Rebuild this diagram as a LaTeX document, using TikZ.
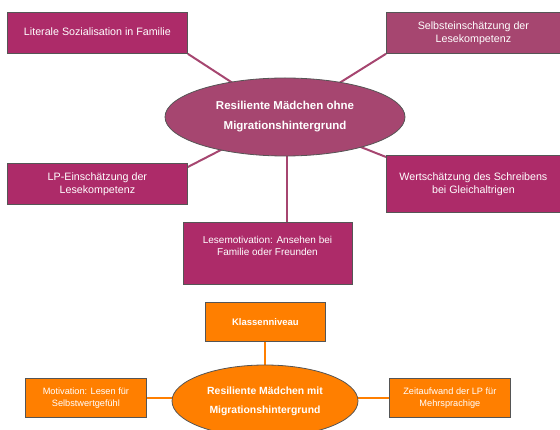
\documentclass[tikz,border=0pt]{standalone}
\usepackage{fontspec}
\setmainfont{Liberation Sans}
\usetikzlibrary{shapes.geometric,backgrounds}
\definecolor{mag}{HTML}{AD2B69}
\definecolor{magl}{HTML}{A64670}
\definecolor{org}{HTML}{FF7F00}
\definecolor{edge}{HTML}{555555}
\tikzset{
  pbox/.style={draw=edge, line width=0.8pt, fill=mag, text=white, font=\fontsize{10.7}{13}\selectfont, align=center, inner sep=0pt},
  obox/.style={draw=edge, line width=0.8pt, fill=org, text=white, font=\fontsize{9.2}{11.7}\selectfont, align=center, inner sep=0pt},
  ell/.style={ellipse, draw=edge, line width=0.8pt, inner sep=0pt, text=white, align=center},
  ptext/.style={text=white, font=\fontsize{10}{12.5}\selectfont, align=center},
  pline/.style={draw=magl, line width=2pt},
  oline/.style={draw=org, line width=2pt},
}
\begin{document}
\begin{tikzpicture}[x=1pt,y=-1pt]
\useasboundingbox (0,0) rectangle (560,430);
\clip (0,0) rectangle (560,430);
% top ellipse
\node[ell, fill=magl, minimum width=240pt, minimum height=78pt, font=\bfseries\fontsize{11.5}{20}\selectfont] (e1) at (285,117) {Resiliente Mädchen ohne\\Migrationshintergrund};
% boxes
\node[pbox, minimum width=180pt, minimum height=41pt, anchor=north west] (b1) at (7,12) {Literale Sozialisation in Familie\vphantom{g}};
\node[pbox, fill=magl, minimum width=174pt, minimum height=41pt, anchor=north west] (b2) at (386,12) {Selbsteinschätzung der\\Lesekompetenz};
\node[pbox, minimum width=180pt, minimum height=41pt, anchor=north west] (b3) at (7,163) {LP-Einschätzung der\\Lesekompetenz};
\node[pbox, minimum width=174pt, minimum height=57pt, anchor=north west] (b4) at (386,155) {Wertschätzung des Schreibens\\bei Gleichaltrigen};
\node[pbox, minimum width=169pt, minimum height=62pt, anchor=north west] (b5) at (183,222) {};
\node[ptext] (t5) at (267.5,246) {Lesemotivation: Ansehen bei\\Familie oder Freunden};
% bottom part
\node[ell, fill=org, minimum width=186pt, minimum height=72pt, font=\bfseries\fontsize{10.4}{19}\selectfont] (e2) at (265,401) {Resiliente Mädchen mit\\Migrationshintergrund};
\node[obox, minimum width=120pt, minimum height=39pt, anchor=north west, font=\bfseries\fontsize{9.5}{11}\selectfont] (k) at (205,302) {Klassenniveau};
\node[obox, minimum width=121pt, minimum height=39pt, anchor=north west] (m) at (25,378) {Motivation: Lesen für\\Selbstwertgefühl};
\node[obox, minimum width=121pt, minimum height=39pt, anchor=north west] (z) at (389,378) {Zeitaufwand der LP für\\Mehrsprachige};
\begin{scope}[on background layer]
\draw[pline] (b1.south east) -- (e1.center);
\draw[pline] (b2.south west) -- (e1.center);
\draw[pline] ([yshift=-4pt]b3.north east) -- (e1.center);
\draw[pline] ([yshift=-2pt]b4.north west) -- (e1.center);
\draw[pline] (b5.north -| 287,0) -- (e1.center -| 287,0);
\draw[oline] (k.south -| e2.north) -- (e2.center);
\draw[oline] (m.east |- 0,398) -- (e2.center |- 0,398);
\draw[oline] (z.west |- 0,398) -- (e2.center |- 0,398);
\end{scope}
\end{tikzpicture}
\end{document}
